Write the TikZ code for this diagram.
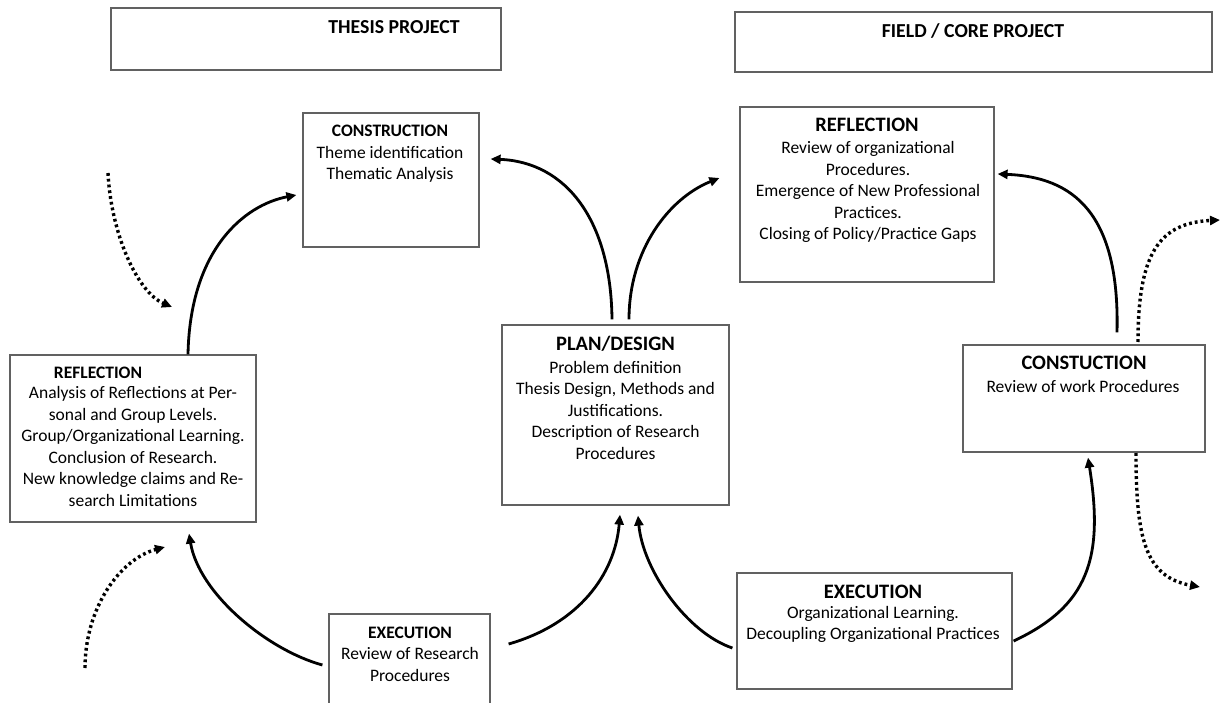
\documentclass[tikz,border=0pt]{standalone}
\usepackage{fontspec}
\setmainfont{Carlito}
\usetikzlibrary{arrows.meta}
\begin{document}
\begin{tikzpicture}[x=1pt,y=-1pt,
  box/.style={draw=black!62,line width=1.2pt,rectangle,inner sep=0pt},
  bodytxt/.style={align=center,inner sep=0pt,anchor=base,text=black,
    font=\fontsize{17.5}{21.5}\selectfont},
  headsm/.style={inner sep=0pt,anchor=base,text=black,
    font=\fontsize{17.5}{21.5}\selectfont\bfseries},
  headbig/.style={inner sep=0pt,anchor=base,text=black,
    font=\fontsize{20.5}{24}\selectfont\bfseries},
  flow/.style={line width=2.8pt,-{Triangle[length=10pt,width=9pt]}},
  cycle/.style={line width=3.4pt,line cap=butt,dash pattern=on 2.8pt off 3pt,
    -{Triangle[length=10pt,width=9pt]}}]
\clip (0,0) rectangle (1229,703);
\fill[white] (0,0) rectangle (1229,703);

% project headers
\node[box,minimum width=390pt,minimum height=62pt] (hdrL) at (306,39) {};
\node[headbig,font=\fontsize{19.8}{24}\selectfont\bfseries] (hdrLt) at (394,33.5) {THESIS PROJECT};
\node[box,minimum width=477pt,minimum height=60pt] (hdrR) at (973.5,42) {};
\node[headbig,font=\fontsize{19.8}{24}\selectfont\bfseries] (hdrRt) at (973,37.5) {FIELD / CORE PROJECT};

% thesis cycle boxes (multi-line texts are placed by the baseline of their last line)
\node[box,minimum width=176pt,minimum height=134pt] (conT) at (391,180) {};
\node[bodytxt] (conTt) at (390,180) {\textbf{CONSTRUCTION}\\Theme identification\\Thematic Analysis};

\node[box,minimum width=246pt,minimum height=167pt] (refL) at (133,438.5) {};
\node[headsm] (refLh) at (98,378) {REFLECTION};
\node[bodytxt] (refLt) at (133,506) {Analysis of Reflections at Per-\\sonal and Group Levels.\\Group/Organizational Learning.\\Conclusion of Research.\\New knowledge claims and Re-\\search Limitations};

\node[box,minimum width=227pt,minimum height=180pt] (plan) at (615.5,415) {};
\node[headbig] (planh) at (615.5,350) {PLAN/DESIGN};
\node[bodytxt] (plant) at (615.5,459) {Problem definition\\Thesis Design, Methods and\\Justifications.\\Description of Research\\Procedures};

\node[box,minimum width=161pt,minimum height=98pt] (exeT) at (409.5,663) {};
\node[bodytxt] (exeTt) at (410,681) {\textbf{EXECUTION}\\Review of Research\\Procedures};

% field cycle boxes
\node[box,minimum width=254pt,minimum height=175pt] (refR) at (867,194.5) {};
\node[headbig] (refRh) at (867,131.5) {REFLECTION};
\node[bodytxt] (refRt) at (868,240) {Review of organizational\\Procedures.\\Emergence of New Professional\\Practices.\\Closing of Policy/Practice Gaps};

\node[box,minimum width=242pt,minimum height=107pt] (conR) at (1084,398.5) {};
\node[headbig] (conRh) at (1084,369.5) {CONSTUCTION};
\node[bodytxt] (conRt) at (1083,392) {Review of work Procedures};

\node[box,minimum width=275pt,minimum height=116pt] (exeR) at (874.5,631) {};
\node[headbig] (exeRh) at (873,598) {EXECUTION};
\node[bodytxt] (exeRt) at (873,639.5) {Organizational Learning.\\Decoupling Organizational Practices};

% solid flow arrows
\draw[flow] ([xshift=55pt]refL.north) .. controls +(2,-105) and +(-52,10) .. ([xshift=-6pt,yshift=-15pt]conT.west);
\draw[flow] ([xshift=-3.5pt,yshift=5pt]plan.north) .. controls +(-1,-100) and +(75,3) .. ([xshift=11pt,yshift=21pt]conT.east);
\draw[flow] ([xshift=13.5pt,yshift=5pt]plan.north) .. controls +(0,-70) and +(-50,20) .. ([xshift=-20pt,yshift=16.5pt]refR.west);
\draw[flow] ([xshift=33pt,yshift=12pt]conR.north) .. controls +(3,-120) and +(75,3) .. ([xshift=3pt,yshift=20.5pt]refR.east);
\draw[flow] ([xshift=1pt,yshift=-10pt]exeR.east) .. controls +(75,-35) and +(16,100) .. ([xshift=4pt,yshift=-5pt]conR.south);
\draw[flow] ([xshift=-4pt,yshift=-17pt]exeR.west) .. controls +(-45,-15) and +(5,55) .. ([xshift=22.5pt,yshift=-10pt]plan.south);
\draw[flow] ([xshift=18pt,yshift=19pt]exeT.east) .. controls +(70,-20) and +(-5,60) .. ([xshift=4.5pt,yshift=-9pt]plan.south);
\draw[flow] ([xshift=-6pt,yshift=-2pt]exeT.west) .. controls +(-55,-15) and +(10,60) .. ([xshift=56pt,yshift=-11pt]refL.south);

% dotted continuation arrows
\coordinate (inTopS) at (108,173);
\coordinate (inTopE) at (172,307);
\coordinate (inBotS) at (85,668);
\coordinate (inBotE) at (165,547);
\coordinate (outTopS) at (1138,342);
\coordinate (outTopE) at (1220,220);
\coordinate (outBotS) at (1136,453);
\coordinate (outBotE) at (1200,587);
\draw[cycle] (inTopS) .. controls +(3,60) and +(-35,-15) .. (inTopE);
\draw[cycle] (inBotS) .. controls +(0,-60) and +(-45,12) .. (inBotE);
\draw[cycle] (outTopS) .. controls +(0,-90) and +(-60,3) .. (outTopE);
\draw[cycle] (outBotS) .. controls +(0,85) and +(-55,-10) .. (outBotE);
\end{tikzpicture}
\end{document}
